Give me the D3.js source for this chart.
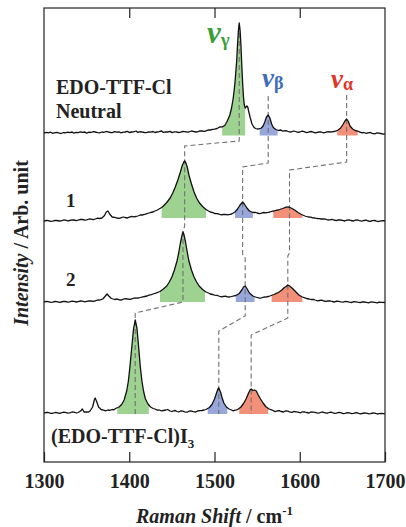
<!DOCTYPE html>
<html>
<head>
<meta charset="utf-8">
<script src="https://cdn.jsdelivr.net/npm/d3@7"></script>
<style>
  html, body { margin: 0; padding: 0; background: #fff; }
  svg { display: block; }
  text { font-family: "Liberation Serif", "Times New Roman", serif; font-weight: bold; }
</style>
</head>
<body>
<svg id="chart" width="406" height="527"></svg>
<script>
// ---------------- DATA ----------------
const xTicks = [1300, 1400, 1500, 1600, 1700];
const traceNames = ["EDO-TTF-Cl Neutral", "1", "2", "(EDO-TTF-Cl)I3"];
const traceOffsets = [32.9, 24.1, 16.0, 4.9];
const fillBottoms = [-0.25, 0.3, 0.0, -0.1];

// spectra: [Raman shift cm-1, relative intensity]
const neutral = [
[1300,0.0],[1303,0.06],[1305,0.02],[1308,0.08],[1310,-0.03],[1313,0.03],[1315,0.06],[1318,-0.02],[1320,-0.05],[1323,0.05],
[1325,0.02],[1328,0.09],[1330,0.04],[1333,0.1],[1335,-0.02],[1338,0.06],[1340,0.03],[1343,0.12],[1345,0.06],[1348,0.1],
[1350,-0.02],[1353,0.08],[1355,0.05],[1358,0.13],[1360,0.1],[1363,0.04],[1365,0.02],[1368,0.1],[1370,0.06],[1373,0.15],
[1375,0.12],[1378,0.05],[1380,0.04],[1383,0.14],[1385,0.08],[1388,0.12],[1390,0.02],[1393,0.09],[1395,0.1],[1398,0.16],
[1400,0.05],[1403,0.1],[1405,0.12],[1408,0.2],[1410,0.06],[1413,0.14],[1415,0.1],[1418,0.05],[1420,0.03],[1423,0.12],
[1425,0.09],[1428,0.15],[1430,0.05],[1433,0.1],[1435,0.13],[1438,0.2],[1440,0.06],[1443,0.12],[1445,0.1],[1448,0.16],
[1450,0.04],[1453,0.12],[1455,0.11],[1458,0.05],[1460,0.08],[1463,0.15],[1465,0.14],[1468,0.08],[1470,0.1],[1473,0.2],
[1475,0.16],[1478,0.1],[1480,0.12],[1483,0.22],[1485,0.2],[1488,0.16],[1490,0.22],[1493,0.32],[1495,0.3],[1498,0.36],
[1500,0.38],[1503,0.45],[1506,0.6],[1509,0.62],[1512,0.75],[1515,1.2],[1518,1.8],[1520,2.5],[1522,3.5],[1524,5.0],
[1526,7.2],[1527,8.8],[1528,10.2],[1529,11.0],[1530,10.3],[1531,8.8],[1532,6.8],[1533,5.0],[1534,3.6],[1535,2.8],
[1536,2.5],[1537,2.6],[1538,2.7],[1539,2.6],[1540,2.2],[1542,1.5],[1544,0.9],[1546,0.6],[1548,0.45],[1550,0.4],
[1552,0.42],[1555,0.5],[1557,0.7],[1559,1.1],[1561,1.6],[1563,1.8],[1565,1.5],[1567,0.9],[1569,0.55],[1572,0.35],
[1575,0.25],[1578,0.3],[1580,0.18],[1583,0.24],[1585,0.2],[1588,0.1],[1590,0.12],[1593,0.2],[1595,0.15],[1598,0.06],
[1600,0.1],[1603,0.18],[1605,0.14],[1608,0.04],[1610,0.08],[1613,0.15],[1615,0.12],[1618,0.02],[1620,0.05],[1623,0.12],
[1625,0.1],[1628,0.02],[1630,0.06],[1633,0.14],[1635,0.1],[1638,0.12],[1640,0.15],[1643,0.22],[1645,0.3],[1648,0.5],
[1651,0.9],[1653,1.2],[1655,1.4],[1657,1.15],[1659,0.7],[1662,0.4],[1665,0.25],[1668,0.18],[1670,0.12],[1673,0.02],
[1675,0.05],[1678,-0.04],[1680,0.02],[1683,0.05],[1685,-0.03],[1688,-0.08],[1690,0.0],[1693,-0.02],[1695,-0.05],[1698,-0.12],[1700,-0.08]
];
const sample1 = [
[1300,0.0],[1303,0.05],[1305,0.03],[1308,-0.04],[1310,-0.02],[1313,0.06],[1315,0.05],[1318,0.0],[1320,0.02],[1323,0.1],
[1325,0.08],[1328,0.02],[1330,0.05],[1333,0.12],[1335,0.1],[1338,0.04],[1340,0.08],[1343,0.16],[1345,0.15],[1348,0.09],
[1350,0.12],[1353,0.2],[1355,0.18],[1358,0.14],[1360,0.2],[1363,0.28],[1365,0.25],[1368,0.3],[1371,0.55],[1373,0.9],
[1375,1.0],[1377,0.7],[1380,0.4],[1383,0.36],[1385,0.3],[1388,0.26],[1390,0.32],[1393,0.4],[1395,0.35],[1398,0.3],
[1400,0.38],[1403,0.46],[1405,0.42],[1408,0.45],[1410,0.5],[1413,0.6],[1415,0.6],[1418,0.66],[1420,0.72],[1423,0.8],
[1425,0.85],[1428,0.9],[1430,1.0],[1433,1.1],[1435,1.2],[1438,1.35],[1440,1.5],[1444,1.85],[1448,2.3],[1451,2.8],
[1454,3.4],[1457,4.1],[1460,4.9],[1462,5.5],[1464,5.9],[1465,6.0],[1466,5.9],[1468,5.4],[1470,4.6],[1473,3.7],
[1476,2.9],[1479,2.3],[1482,1.85],[1486,1.45],[1490,1.15],[1493,1.0],[1495,0.9],[1498,0.84],[1500,0.75],[1503,0.74],
[1505,0.7],[1508,0.62],[1510,0.65],[1513,0.66],[1515,0.62],[1518,0.66],[1520,0.7],[1524,0.9],[1527,1.2],[1530,1.6],
[1533,1.9],[1535,1.7],[1538,1.3],[1541,1.0],[1545,0.85],[1548,0.86],[1550,0.8],[1553,0.74],[1555,0.78],[1558,0.85],
[1560,0.82],[1563,0.86],[1565,0.9],[1568,0.98],[1570,1.0],[1573,1.08],[1575,1.1],[1578,1.2],[1580,1.25],[1584,1.38],
[1587,1.4],[1590,1.3],[1594,1.1],[1598,0.85],[1602,0.65],[1606,0.5],[1610,0.4],[1613,0.38],[1615,0.32],[1618,0.3],
[1620,0.25],[1623,0.24],[1625,0.2],[1628,0.22],[1630,0.18],[1633,0.1],[1635,0.12],[1638,0.16],[1640,0.1],[1643,0.04],
[1645,0.12],[1648,0.1],[1650,0.06],[1653,0.0],[1655,0.08],[1658,0.12],[1660,0.05],[1663,0.0],[1665,0.08],[1668,0.1],
[1670,0.03],[1673,-0.02],[1675,0.05],[1678,0.08],[1680,0.0],[1683,-0.04],[1685,0.04],[1688,0.06],[1690,-0.02],[1693,-0.05],
[1695,0.02],[1698,0.04],[1700,0.0]
];
const sample2 = [
[1300,0.0],[1303,0.06],[1305,0.04],[1308,-0.03],[1310,-0.02],[1313,0.05],[1315,0.03],[1318,-0.04],[1320,0.0],[1323,0.07],
[1325,0.05],[1328,-0.02],[1330,0.02],[1333,0.09],[1335,0.07],[1338,0.0],[1340,0.04],[1343,0.1],[1345,0.08],[1348,0.02],
[1350,0.06],[1353,0.12],[1355,0.1],[1358,0.06],[1360,0.12],[1363,0.2],[1365,0.18],[1369,0.3],[1372,0.6],[1374,0.8],
[1376,0.6],[1379,0.35],[1381,0.3],[1383,0.25],[1386,0.3],[1388,0.22],[1391,0.2],[1393,0.28],[1396,0.34],[1398,0.3],
[1401,0.26],[1403,0.32],[1406,0.4],[1408,0.38],[1411,0.4],[1413,0.45],[1416,0.52],[1418,0.55],[1421,0.6],[1423,0.68],
[1426,0.74],[1428,0.8],[1432,0.92],[1436,1.05],[1440,1.3],[1444,1.6],[1447,2.0],[1450,2.5],[1453,3.2],[1456,4.1],
[1458,4.9],[1460,5.9],[1462,6.7],[1463,7.0],[1464,6.8],[1466,6.0],[1468,5.0],[1470,4.1],[1473,3.2],[1476,2.5],
[1479,2.0],[1482,1.6],[1486,1.25],[1490,1.0],[1493,0.9],[1495,0.8],[1498,0.75],[1500,0.68],[1503,0.66],[1505,0.6],
[1508,0.52],[1510,0.55],[1513,0.58],[1515,0.52],[1518,0.5],[1520,0.55],[1523,0.62],[1525,0.65],[1529,0.85],[1532,1.2],
[1534,1.5],[1536,1.6],[1538,1.35],[1541,0.9],[1545,0.6],[1548,0.5],[1550,0.45],[1553,0.38],[1555,0.42],[1558,0.5],
[1560,0.48],[1563,0.55],[1565,0.6],[1568,0.7],[1570,0.75],[1573,0.88],[1575,0.95],[1579,1.2],[1582,1.45],[1584,1.55],
[1586,1.7],[1588,1.6],[1591,1.4],[1595,1.05],[1599,0.7],[1603,0.5],[1606,0.42],[1608,0.35],[1611,0.3],[1613,0.25],
[1616,0.26],[1618,0.2],[1621,0.12],[1623,0.15],[1626,0.18],[1628,0.1],[1631,0.06],[1633,0.12],[1636,0.1],[1638,0.05],
[1641,0.0],[1643,0.08],[1646,0.06],[1648,0.02],[1651,-0.02],[1653,0.05],[1656,0.04],[1658,-0.01],[1661,-0.05],[1663,0.03],
[1666,0.02],[1668,-0.02],[1671,-0.06],[1673,0.02],[1676,0.0],[1678,-0.03],[1681,-0.08],[1683,0.0],[1686,-0.02],[1688,-0.04],
[1691,-0.09],[1693,-0.01],[1696,-0.03],[1700,-0.05]
];
const saltI3 = [
[1300,0.0],[1303,0.06],[1305,0.05],[1308,-0.04],[1310,-0.03],[1313,0.05],[1315,0.04],[1318,-0.03],[1320,0.0],[1323,0.08],
[1325,0.06],[1328,-0.01],[1330,0.02],[1333,0.1],[1335,0.08],[1338,0.0],[1340,0.05],[1343,0.2],[1345,0.4],[1347,0.1],
[1350,0.12],[1352,0.08],[1354,0.2],[1357,0.6],[1359,1.3],[1360,1.5],[1362,1.1],[1364,0.6],[1367,0.35],[1370,0.28],
[1372,0.22],[1375,0.3],[1377,0.26],[1380,0.35],[1382,0.32],[1384,0.45],[1388,0.6],[1391,0.85],[1394,1.3],[1397,2.2],
[1399,3.2],[1401,4.8],[1403,6.6],[1405,8.4],[1407,9.3],[1409,8.5],[1411,6.6],[1413,4.6],[1415,3.1],[1417,2.1],
[1419,1.4],[1422,0.9],[1425,0.6],[1428,0.45],[1430,0.4],[1433,0.28],[1435,0.3],[1438,0.22],[1440,0.25],[1443,0.3],
[1445,0.35],[1448,0.2],[1450,0.15],[1452,0.22],[1454,0.25],[1456,0.15],[1458,0.1],[1460,0.2],[1463,0.18],[1465,0.12],
[1468,0.08],[1470,0.18],[1473,0.2],[1475,0.14],[1478,0.1],[1480,0.2],[1483,0.24],[1485,0.25],[1488,0.3],[1490,0.35],
[1494,0.55],[1497,0.85],[1500,1.4],[1502,1.9],[1504,2.4],[1505,2.5],[1507,2.1],[1509,1.5],[1511,1.0],[1514,0.6],
[1517,0.4],[1520,0.3],[1522,0.22],[1524,0.28],[1526,0.32],[1528,0.4],[1531,0.6],[1534,0.95],[1537,1.4],[1540,2.0],
[1542,2.35],[1543,2.4],[1545,2.25],[1547,2.3],[1549,2.2],[1551,1.85],[1554,1.4],[1557,1.0],[1560,0.65],[1564,0.4],
[1566,0.34],[1568,0.28],[1571,0.14],[1573,0.2],[1576,0.24],[1578,0.15],[1581,0.1],[1583,0.2],[1586,0.18],[1588,0.12],
[1591,0.06],[1593,0.15],[1596,0.12],[1598,0.08],[1601,0.02],[1603,0.12],[1606,0.1],[1608,0.05],[1611,0.0],[1613,0.1],
[1616,0.08],[1618,0.06],[1621,-0.02],[1623,0.02],[1626,0.1],[1628,0.07],[1631,-0.02],[1633,0.0],[1636,0.08],[1638,0.05],
[1641,-0.04],[1643,-0.02],[1646,0.06],[1648,0.03],[1651,-0.06],[1653,-0.03],[1656,0.04],[1658,0.01],[1661,-0.07],[1663,-0.04],
[1666,0.03],[1668,0.0],[1671,-0.08],[1673,-0.05],[1676,0.02],[1678,-0.01],[1681,-0.09],[1683,-0.06],[1686,0.0],[1688,-0.02],
[1691,-0.1],[1693,-0.07],[1696,-0.03],[1700,-0.08]
];
const spectra = [neutral, sample1, sample2, saltI3];

// highlighted band ranges [start, end] for gamma, beta, alpha, per trace
const modes = ["γ", "β", "α"];
const gammaBands = [[1509,1536],[1438,1490],[1436,1489],[1386,1423]];
const betaBands  = [[1553,1574],[1524,1545],[1525,1547],[1492,1515]];
const alphaBands = [[1644,1668],[1569,1603],[1567,1603],[1529,1563]];

// dashed connectors [cm-1, absolute intensity]
const gammaLink = [[1529,43.7],[1529,32.1],[1465,31.6],[1465,23.6],[1463,23.0],[1463,16.0],[1407,14.9],[1407,4.8]];
const betaLink  = [[1563,36.6],[1563,29.9],[1533,29.5],[1533,20.7],[1536,20.4],[1536,14.6],[1505,13.1],[1505,4.8]];
const alphaLink = [[1655,36.7],[1655,30.0],[1588,29.2],[1588,20.9],[1586,20.6],[1586,14.4],[1543,12.7],[1543,4.8]];

// ---------------- DRAW ----------------
const W = 406, H = 527;
const m = {left: 44, right: 21, top: 8, bottom: 65};
const iw = W - m.left - m.right, ih = H - m.top - m.bottom;
const svg = d3.select("#chart");
const g = svg.append("g").attr("transform", `translate(${m.left},${m.top})`);

const x = d3.scaleLinear().domain([1300, 1700]).range([0, iw]);
const y = d3.scaleLinear().domain([0, 45.4]).range([ih, 0]);

const fillColors = {γ: "#9dd290", β: "#97a7da", α: "#f2907a"};
const textColors = {γ: "#3a9e3a", β: "#3d6db8", α: "#e2352a"};
const bandSets = {γ: gammaBands, β: betaBands, α: alphaBands};

const defs = svg.append("defs");

// band fills
spectra.forEach((sp, i) => {
  const off = traceOffsets[i];
  modes.forEach(mo => {
    const [a, b] = bandSets[mo][i];
    const id = `clip-${i}-${mo.charCodeAt(0)}`;
    defs.append("clipPath").attr("id", id)
      .append("rect").attr("x", x(a)).attr("y", 0).attr("width", x(b) - x(a)).attr("height", ih);
    const area = d3.area()
      .x(d => x(d[0]))
      .y0(y(off + fillBottoms[i]))
      .y1(d => y(off + Math.max(d[1], fillBottoms[i])));
    g.append("path").datum(sp).attr("d", area)
      .attr("fill", fillColors[mo]).attr("clip-path", `url(#${id})`);
  });
});

// dashed connectors
const linkLine = d3.line().x(d => x(d[0])).y(d => y(d[1]));
[gammaLink, betaLink, alphaLink].forEach(l => {
  g.append("path").datum(l).attr("d", linkLine)
    .attr("fill", "none").attr("stroke", "#707070").attr("stroke-width", 1.1)
    .attr("stroke-dasharray", "5,3");
});

// spectra lines
spectra.forEach((sp, i) => {
  const line = d3.line().x(d => x(d[0])).y(d => y(traceOffsets[i] + d[1]));
  g.append("path").datum(sp).attr("d", line)
    .attr("fill", "none").attr("stroke", "#111").attr("stroke-width", 1.3)
    .attr("stroke-linejoin", "round");
});

// frame
g.append("rect").attr("x", 0).attr("y", 0).attr("width", iw).attr("height", ih)
  .attr("fill", "none").attr("stroke", "#222").attr("stroke-width", 1.2);

// axes
const xb = g.append("g").attr("transform", `translate(0,${ih})`)
  .call(d3.axisBottom(x).tickValues(xTicks).tickSize(-10).tickSizeOuter(0).tickPadding(12).tickFormat(d3.format("d")));
const xt = g.append("g")
  .call(d3.axisTop(x).tickValues(xTicks.slice(1, -1)).tickSize(-10).tickSizeOuter(0).tickFormat(""));
[xb, xt].forEach(ax => {
  ax.select(".domain").remove();
  ax.selectAll(".tick line").attr("stroke", "#222").attr("stroke-width", 1.2);
});
xb.selectAll(".tick text")
  .style("font-family", '"Liberation Serif", serif').style("font-weight", "bold")
  .style("font-size", "20px").style("fill", "#222");

// axis titles
const xTitle = svg.append("text").attr("x", m.left + iw / 2).attr("y", 523)
  .attr("text-anchor", "middle").style("font-size", "20px").style("fill", "#222");
xTitle.append("tspan").style("font-style", "italic").text("Raman Shift");
xTitle.append("tspan").text(" / cm");
xTitle.append("tspan").attr("dy", -8).style("font-size", "13px").text("-1");

const yTitle = svg.append("text").attr("transform", "translate(28,243) rotate(-90)")
  .attr("text-anchor", "middle").style("font-size", "20px").style("fill", "#222");
yTitle.append("tspan").style("font-style", "italic").text("Intensity");
yTitle.append("tspan").text(" / Arb. unit");

// trace labels
const lbl = (tx, ty, size, s) => svg.append("text").attr("x", tx).attr("y", ty)
  .style("font-size", size + "px").style("fill", "#222").text(s);
lbl(56, 94, 20, "EDO-TTF-Cl");
lbl(56, 118, 20, "Neutral");
lbl(66, 207, 19, traceNames[1]);
lbl(66, 286, 19, traceNames[2]);
const salt = svg.append("text").attr("x", 51).attr("y", 443).style("font-size", "20px").style("fill", "#222");
salt.append("tspan").text("(EDO-TTF-Cl)I");
salt.append("tspan").attr("dy", 5).style("font-size", "13px").text("3");

// mode labels
const modeLabels = [
  {mo: "γ", px: 207, py: 43, size: 31, sub: 19, dy: 3},
  {mo: "β", px: 262, py: 87, size: 27, sub: 18, dy: 2},
  {mo: "α", px: 331, py: 88, size: 27, sub: 18, dy: 2}
];
modeLabels.forEach(l => {
  const t = svg.append("text").attr("x", l.px).attr("y", l.py)
    .style("font-size", l.size + "px").style("font-style", "italic").style("fill", textColors[l.mo]);
  t.append("tspan").text("ν");
  t.append("tspan").attr("dy", l.dy).style("font-size", l.sub + "px").style("font-style", "normal").text(l.mo);
});
</script>
</body>
</html>
